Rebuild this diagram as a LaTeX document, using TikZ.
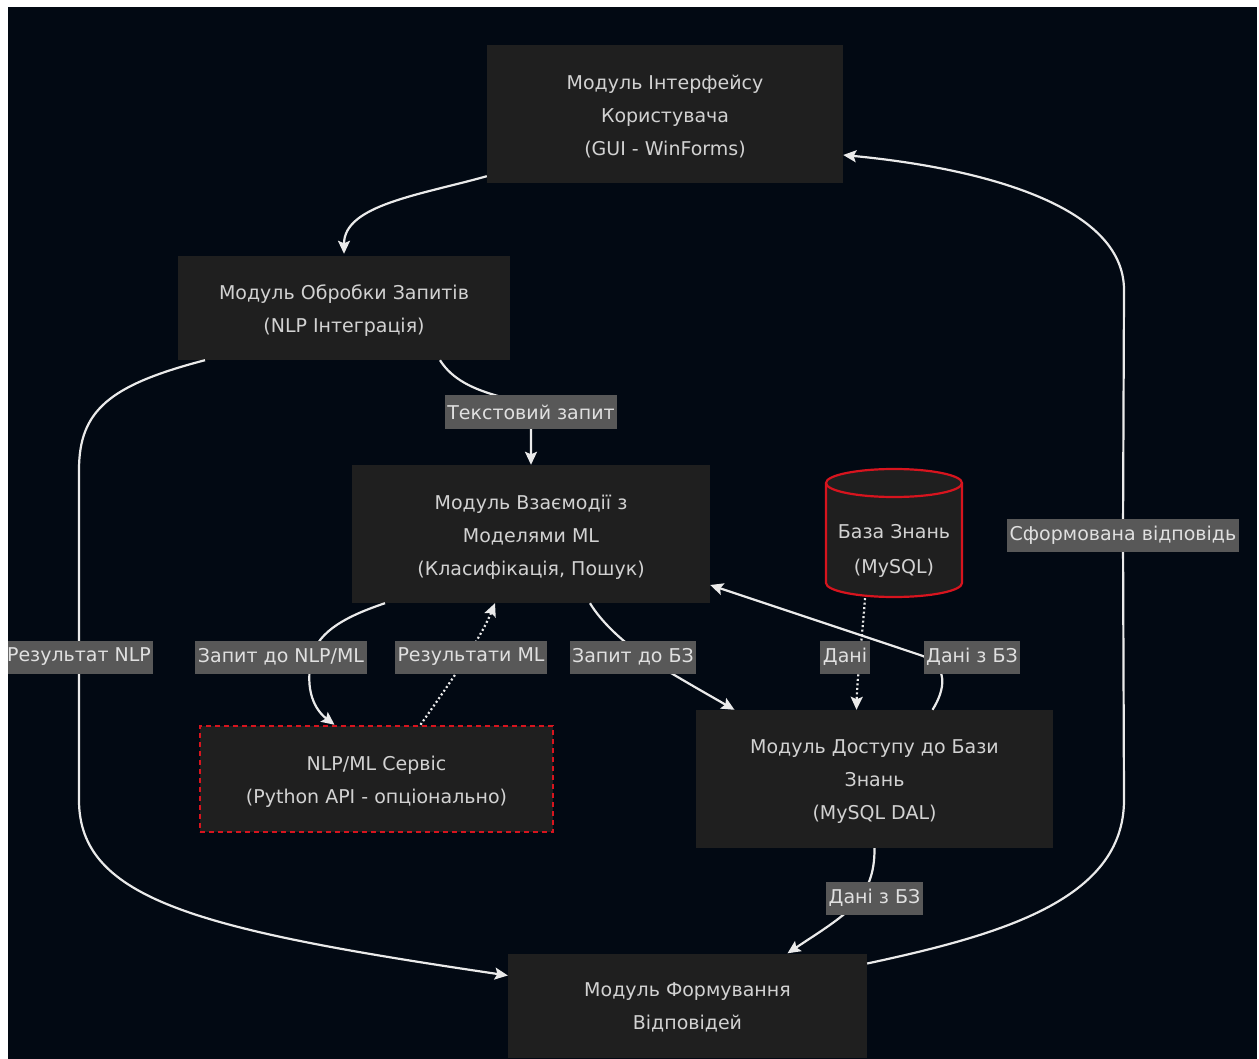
\documentclass[tikz,border=0pt]{standalone}
\usepackage{fontspec}
\setmainfont{DejaVu Sans}
\usetikzlibrary{arrows.meta,calc}
\definecolor{bgc}{RGB}{2,9,19}
\definecolor{nodefill}{RGB}{31,31,31}
\definecolor{lblfill}{RGB}{88,88,88}
\definecolor{txtc}{RGB}{210,210,210}
\definecolor{lbltxt}{RGB}{224,224,224}
\definecolor{edgec}{RGB}{234,234,234}
\definecolor{dbred}{RGB}{215,20,30}
\begin{document}
\begin{tikzpicture}[x=1pt,y=-1pt,
  box/.style={fill=nodefill, draw=none, inner sep=0pt},
  boxtext/.style={text=txtc, align=center, font=\fontsize{19}{33}\selectfont, inner sep=0pt},
  svcbox/.style={box, draw=dbred, line width=2.5pt, dash pattern=on 5pt off 4pt},
  lbl/.style={fill=lblfill, text=lbltxt, font=\fontsize{19}{22}\selectfont,
    inner xsep=2.5pt, inner ysep=0pt, minimum height=33pt},
  edge/.style={draw=edgec, line width=2.2pt, -{Stealth[length=13pt,width=12pt,inset=2.5pt]}},
  dotedge/.style={edge, dash pattern=on 2pt off 2.5pt}
]
\useasboundingbox (0,0) rectangle (1259,1059);
\fill[bgc] (0,0) rectangle (1259,1059);

% nodes (boxes)
\node[box, minimum width=356pt, minimum height=138pt] (ui) at (665,114) {};
\node[box, minimum width=332pt, minimum height=104pt] (q) at (344,308) {};
\node[box, minimum width=358pt, minimum height=138pt] (ml) at (531,534) {};
\node[svcbox, minimum width=353pt, minimum height=106pt] (svc) at (376.5,779) {};
\node[box, minimum width=357pt, minimum height=138pt] (dal) at (874.5,779) {};
\node[box, minimum width=359pt, minimum height=104pt] (resp) at (687.5,1005.5) {};

% node texts
\node[boxtext] (uit) at ([yshift=-3pt]ui.center) {Модуль Інтерфейсу\\Користувача\\(GUI - WinForms)};
\node[boxtext] (qt) at ([yshift=-3pt]q.center) {Модуль Обробки Запитів\\(NLP Інтеграція)};
\node[boxtext] (mlt) at ([yshift=-3pt]ml.center) {Модуль Взаємодії з\\Моделями ML\\(Класифікація, Пошук)};
\node[boxtext] (svct) at ([yshift=-3pt]svc.center) {NLP/ML Сервіс\\(Python API - опціонально)};
\node[boxtext] (dalt) at ([yshift=-3pt]dal.center) {Модуль Доступу до Бази\\Знань\\(MySQL DAL)};
\node[boxtext] (respt) at ([yshift=-2pt]resp.center) {Модуль Формування\\Відповідей};

% database cylinder
\fill[nodefill] (826,483) -- (826,583) arc[start angle=180,end angle=360,x radius=68pt,y radius=14pt]
  -- (962,483) arc[start angle=0,end angle=180,x radius=68pt,y radius=14pt] -- cycle;
\draw[dbred, line width=2.2pt] (826,483) -- (826,583) arc[start angle=180,end angle=360,x radius=68pt,y radius=14pt]
  -- (962,483);
\draw[dbred, line width=2.2pt] (894,483) ellipse [x radius=68pt, y radius=14pt];
\node[text=txtc, align=center, font=\fontsize{19}{35}\selectfont, inner sep=0pt,
  minimum width=136pt, minimum height=94pt] (db) at (894,551) {База Знань\\(MySQL)};

% label positions
\coordinate (l1) at (531,412);
\coordinate (l2) at (79,657);
\coordinate (l3) at (281,657);
\coordinate (l4) at (471,657);
\coordinate (l5) at (633,657);
\coordinate (l6) at (845,657);
\coordinate (l7) at (972,657);
\coordinate (l8) at (874.5,898);
\coordinate (l9) at (1123,535);

% edges
\draw[edge, shorten >=2pt] ([yshift=7pt]ui.south west) .. controls (420,195) and (344,205) .. (q.north);
\draw[edge] ([xshift=96pt]q.south) .. controls (465,400) and (527,395) .. (l1) -- (ml.north);
\draw[edge] ([xshift=-139pt]q.south) .. controls (110,385) and (79,410) .. (79,470) -- (l2) -- (79,800)
  .. controls (79,900) and (200,930) .. ([yshift=30pt]resp.west);
\draw[edge] ([xshift=-146pt]ml.south) .. controls (350,615) and (318,630) .. (312,657)
  .. controls (304,690) and (315,710) .. ([xshift=-42pt]svc.north);
\draw[dotedge] ([xshift=44pt]svc.north) .. controls (445,690) and (480,640) .. ([xshift=-36pt]ml.south);
\draw[edge] ([xshift=59pt]ml.south) .. controls (600,620) and (620,640) .. (645,657)
  .. controls (670,673) and (700,690) .. ([xshift=-140pt]dal.north);
\draw[dotedge] ([xshift=-29pt]db.south) .. controls (862,640) and (857,680) .. ([xshift=-18pt]dal.north);
\draw[edge] ([xshift=58pt]dal.north) .. controls (945,690) and (950,665) .. (920,655)
  -- ([yshift=-51pt]ml.east);
\draw[edge] (dal.south) .. controls (875,900) and (845,915) .. ([xshift=100pt]resp.north);
\draw[edge] ([yshift=42pt]resp.east) .. controls (1000,935) and (1124,900) .. (1124,800) -- (l9)
  -- (1124,290) .. controls (1124,205) and (980,168) .. ([yshift=-41pt]ui.east);

% labels
\node[lbl] (t1) at (l1) {Текстовий запит};
\node[lbl] (t2) at (l2) {Результат NLP};
\node[lbl] (t3) at (l3) {Запит до NLP/ML};
\node[lbl] (t4) at (l4) {Результати ML};
\node[lbl] (t5) at (l5) {Запит до БЗ};
\node[lbl] (t6) at (l6) {Дані};
\node[lbl] (t7) at (l7) {Дані з БЗ};
\node[lbl] (t8) at (l8) {Дані з БЗ};
\node[lbl] (t9) at (l9) {Сформована відповідь};

% white margins
\fill[white] (0,0) rectangle (1259,7);
\fill[white] (0,0) rectangle (8,1059);
\fill[white] (1257,0) rectangle (1259,1059);
\end{tikzpicture}
\end{document}
